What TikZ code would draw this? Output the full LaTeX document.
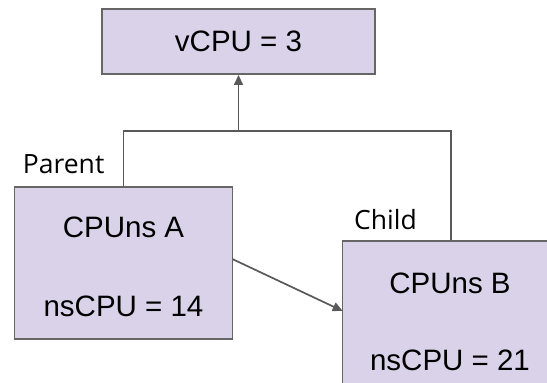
\documentclass[tikz,border=0pt]{standalone}
\usepackage{fontspec}
\setmainfont{Liberation Sans}
\newfontfamily\labelfont{Open Sans}
\usetikzlibrary{arrows.meta}
\definecolor{boxfill}{HTML}{D9D2E9}
\definecolor{boxline}{HTML}{666666}
\definecolor{conn}{HTML}{595959}
\tikzset{
  cpubox/.style={draw=boxline, fill=boxfill, line width=1.5pt, inner sep=0pt, minimum width=217.6pt, minimum height=152pt},
  boxtext/.style={font=\fontsize{29.5}{36}\selectfont, inner sep=0pt},
  tag/.style={font=\labelfont\fontsize{26.5}{30}\selectfont, inner sep=0pt, anchor=base west},
  conline/.style={draw=conn, line width=1.7pt},
  conarrow/.style={conline, -{Triangle[length=10pt,width=9pt]}}
}
\begin{document}
\begin{tikzpicture}[x=1pt,y=-1pt]
\useasboundingbox (0,0) rectangle (547,383);
\clip (0,0) rectangle (547,383);
\node[cpubox, minimum width=273pt, minimum height=65pt] (top) at (238.5,41.7) {};
\node[boxtext] (toptext) at (top.center) {vCPU = 3};
\node[cpubox] (parent) at (123.5,263) {};
\node[boxtext] (pa) at (123.5,227) {CPUns A};
\node[boxtext] (pb) at (123.5,306) {nsCPU = 14};
\node[cpubox] (child) at (451.3,316.8) {};
\node[boxtext] (ca) at (450,283) {CPUns B};
\node[boxtext] (cb) at (450,360) {nsCPU = 21};
\node[tag] (plabel) at (22.7,173) {Parent};
\node[tag] (clabel) at (354,229) {Child};
\coordinate (j) at (238.5,131);
\draw[conline] (parent.north) |- (j) -| (child.north);
\draw[conarrow] (j) -- (top.south);
\coordinate (as) at (232.3,259);
\coordinate (ae) at (342.7,311);
\draw[conarrow] (as) -- (ae);
\end{tikzpicture}
\end{document}
